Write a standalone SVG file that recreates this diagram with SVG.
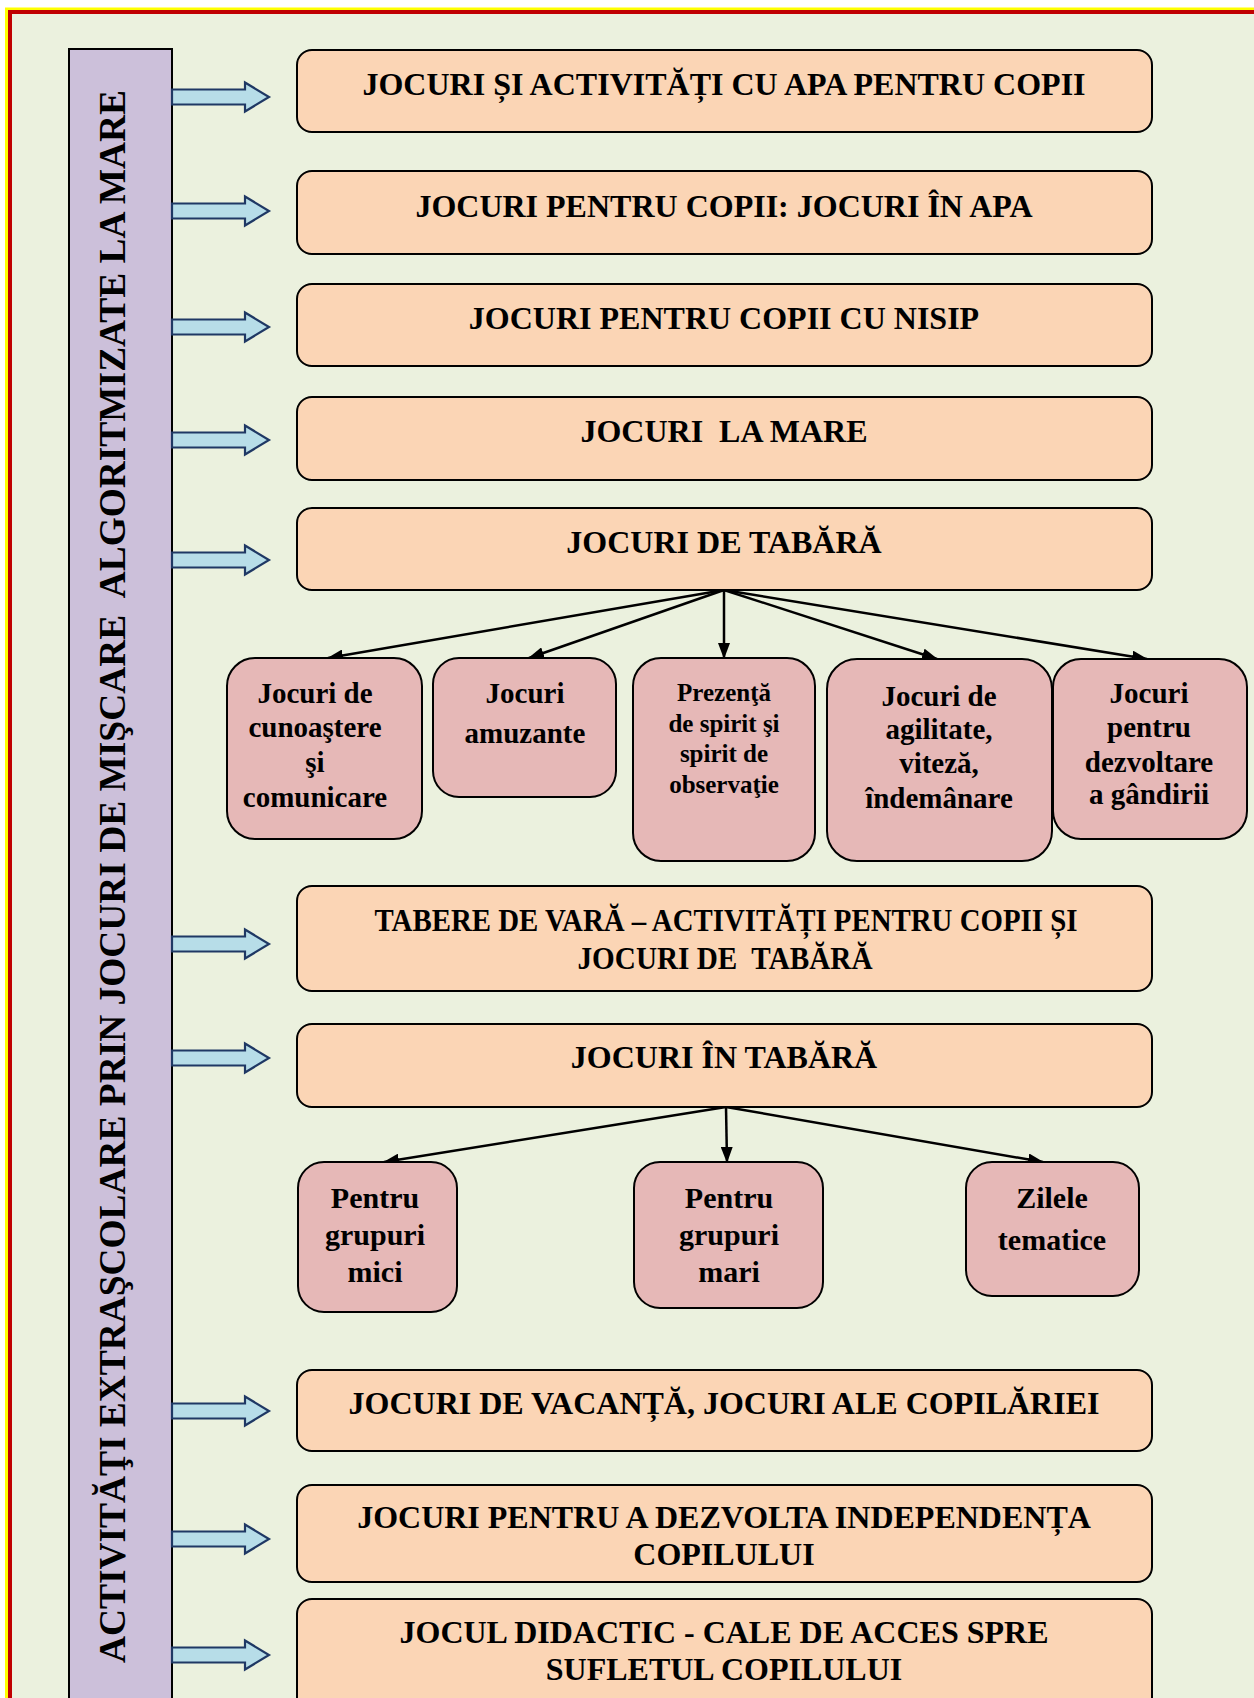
<svg xmlns="http://www.w3.org/2000/svg" width="1254" height="1698" viewBox="0 0 1254 1698">
<style>
.main{fill:#FBD5B5;stroke:#000;stroke-width:2}
.sub{fill:#E6B8B7;stroke:#000;stroke-width:2}
.t{font-family:"Liberation Serif","Times New Roman",serif;font-weight:bold;fill:#000;text-anchor:middle;white-space:pre}
.t32{font-size:32px}
.t29{font-size:29px}
.t25{font-size:25px}
.t30{font-size:30px}
.conn{stroke:#000;stroke-width:2.5;fill:none;marker-end:url(#ah)}
.barrow{fill:#B7DDE8;stroke:#1F3864;stroke-width:2.2;stroke-linejoin:miter}
</style>
<defs>
<marker id="ah" viewBox="0 0 16 12" refX="15" refY="6" markerWidth="16" markerHeight="12" markerUnits="userSpaceOnUse" orient="auto">
<path d="M0,0 L16,6 L0,12 Z" fill="#000"/>
</marker>
<path id="ba" d="M172,-7.5 H245 V-14.5 L269,0 L245,14.5 V7.5 H172 Z"/>
</defs>
<rect x="0" y="0" width="1254" height="1698" fill="#fff"/>
<rect x="6.5" y="9" width="1400" height="1800" fill="#EBF1DE" stroke="#FFFF00" stroke-width="3"/>
<rect x="10" y="12" width="1400" height="1800" fill="none" stroke="#C00000" stroke-width="4"/>

<g id="bar">
<rect x="69" y="49" width="103" height="1700" fill="#CCC0DA" stroke="#000" stroke-width="2"/>
<text class="t" style="font-size:37px;text-anchor:start" transform="translate(125,1663) rotate(-90)" textLength="1573" lengthAdjust="spacingAndGlyphs">ACTIVITĂŢI EXTRAŞCOLARE PRIN JOCURI DE MIŞCARE  ALGORITMIZATE LA MARE</text>
</g>

<g id="connectors">
<use href="#ba" class="barrow" transform="translate(0,97)"/>
<use href="#ba" class="barrow" transform="translate(0,211)"/>
<use href="#ba" class="barrow" transform="translate(0,327)"/>
<use href="#ba" class="barrow" transform="translate(0,440)"/>
<use href="#ba" class="barrow" transform="translate(0,560)"/>
<use href="#ba" class="barrow" transform="translate(0,944)"/>
<use href="#ba" class="barrow" transform="translate(0,1058)"/>
<use href="#ba" class="barrow" transform="translate(0,1411)"/>
<use href="#ba" class="barrow" transform="translate(0,1539)"/>
<use href="#ba" class="barrow" transform="translate(0,1655)"/>
<line class="conn" x1="724" y1="590" x2="328" y2="658"/>
<line class="conn" x1="724" y1="590" x2="529" y2="658"/>
<line class="conn" x1="724" y1="590" x2="724" y2="658"/>
<line class="conn" x1="724" y1="590" x2="937" y2="659"/>
<line class="conn" x1="724" y1="590" x2="1147" y2="659"/>
<line class="conn" x1="726" y1="1107" x2="384" y2="1162"/>
<line class="conn" x1="726" y1="1107" x2="727" y2="1162"/>
<line class="conn" x1="726" y1="1107" x2="1043" y2="1162"/>
</g>

<g id="n1"><rect class="main" x="297" y="50" width="855" height="82" rx="15"/>
<text class="t t32" x="724" y="95">JOCURI ȘI ACTIVITĂȚI CU APA PENTRU COPII</text></g>
<g id="n2"><rect class="main" x="297" y="171" width="855" height="83" rx="15"/>
<text class="t t32" x="724" y="217">JOCURI PENTRU COPII: JOCURI ÎN APA</text></g>
<g id="n3"><rect class="main" x="297" y="284" width="855" height="82" rx="15"/>
<text class="t t32" x="724" y="329">JOCURI PENTRU COPII CU NISIP</text></g>
<g id="n4"><rect class="main" x="297" y="397" width="855" height="83" rx="15"/>
<text class="t t32" x="724" y="442">JOCURI  LA MARE</text></g>
<g id="n5"><rect class="main" x="297" y="508" width="855" height="82" rx="15"/>
<text class="t t32" x="724" y="553">JOCURI DE TABĂRĂ</text></g>

<g id="s1"><rect class="sub" x="227" y="658" width="195" height="181" rx="28"/>
<text class="t t29" x="315" y="703">Jocuri de</text>
<text class="t t29" x="315" y="737">cunoaştere</text>
<text class="t t29" x="315" y="772">şi</text>
<text class="t t29" x="315" y="807">comunicare</text></g>
<g id="s2"><rect class="sub" x="433" y="658" width="183" height="139" rx="26"/>
<text class="t t29" x="525" y="703">Jocuri</text>
<text class="t t29" x="525" y="743">amuzante</text></g>
<g id="s3"><rect class="sub" x="633" y="658" width="182" height="203" rx="28"/>
<text class="t t25" x="724" y="701">Prezenţă</text>
<text class="t t25" x="724" y="732">de spirit şi</text>
<text class="t t25" x="724" y="762">spirit de</text>
<text class="t t25" x="724" y="793">observaţie</text></g>
<g id="s4"><rect class="sub" x="827" y="659" width="225" height="202" rx="30"/>
<text class="t t29" x="939" y="706">Jocuri de</text>
<text class="t t29" x="939" y="739">agilitate,</text>
<text class="t t29" x="939" y="773">viteză,</text>
<text class="t t29" x="939" y="808">îndemânare</text></g>
<g id="s5"><rect class="sub" x="1053" y="659" width="194" height="180" rx="28"/>
<text class="t t29" x="1149" y="703">Jocuri</text>
<text class="t t29" x="1149" y="737">pentru</text>
<text class="t t29" x="1149" y="772">dezvoltare</text>
<text class="t t29" x="1149" y="804">a gândirii</text></g>

<g id="n6"><rect class="main" x="297" y="886" width="855" height="105" rx="15"/>
<text class="t t32" x="726" y="931" textLength="703" lengthAdjust="spacingAndGlyphs">TABERE DE VARĂ – ACTIVITĂȚI PENTRU COPII ȘI</text>
<text class="t t32" x="725" y="969" textLength="295" lengthAdjust="spacingAndGlyphs">JOCURI DE  TABĂRĂ</text></g>
<g id="n7"><rect class="main" x="297" y="1024" width="855" height="83" rx="15"/>
<text class="t t32" x="724" y="1068">JOCURI ÎN TABĂRĂ</text></g>

<g id="b1"><rect class="sub" x="298" y="1162" width="159" height="150" rx="26"/>
<text class="t t30" x="375" y="1208">Pentru</text>
<text class="t t30" x="375" y="1245">grupuri</text>
<text class="t t30" x="375" y="1282">mici</text></g>
<g id="b2"><rect class="sub" x="634" y="1162" width="189" height="146" rx="26"/>
<text class="t t30" x="729" y="1208">Pentru</text>
<text class="t t30" x="729" y="1245">grupuri</text>
<text class="t t30" x="729" y="1282">mari</text></g>
<g id="b3"><rect class="sub" x="966" y="1162" width="173" height="134" rx="26"/>
<text class="t t30" x="1052" y="1208">Zilele</text>
<text class="t t30" x="1052" y="1250">tematice</text></g>

<g id="n8"><rect class="main" x="297" y="1370" width="855" height="81" rx="15"/>
<text class="t t32" x="724" y="1414">JOCURI DE VACANȚĂ, JOCURI ALE COPILĂRIEI</text></g>
<g id="n9"><rect class="main" x="297" y="1485" width="855" height="97" rx="15"/>
<text class="t t32" x="724" y="1528">JOCURI PENTRU A DEZVOLTA INDEPENDENȚA</text>
<text class="t t32" x="724" y="1565">COPILULUI</text></g>
<g id="n10"><rect class="main" x="297" y="1599" width="855" height="140" rx="15"/>
<text class="t t32" x="724" y="1643">JOCUL DIDACTIC - CALE DE ACCES SPRE</text>
<text class="t t32" x="724" y="1680">SUFLETUL COPILULUI</text></g>
</svg>
